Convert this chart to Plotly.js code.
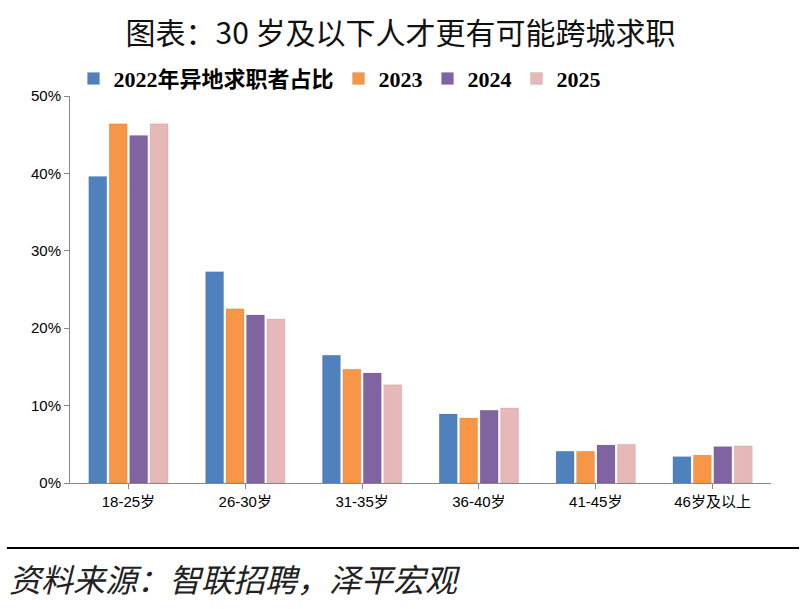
<!DOCTYPE html>
<html><head><meta charset="utf-8">
<script src="https://cdn.plot.ly/plotly-3.0.1.min.js"></script>
<style>body{margin:0;background:#fff}#chart{width:801px;height:609px}</style>
</head><body><div id="chart"></div>
<script>
let categories = ["18-25岁", "26-30岁", "31-35岁", "36-40岁", "41-45岁", "46岁及以上"];
let names = ["2022年异地求职者占比", "2023", "2024", "2025"];
let v2022 = [39.6, 27.3, 16.5, 8.9, 4.1, 3.4];
let v2023 = [46.4, 22.5, 14.7, 8.4, 4.1, 3.6];
let v2024 = [44.9, 21.7, 14.2, 9.4, 4.9, 4.7];
let v2025 = [46.4, 21.2, 12.7, 9.7, 5.0, 4.8];
let colors = ["#4f81bd", "#f79646", "#8064a2", "#e6b9b8"];
let series = [v2022, v2023, v2024, v2025];

let data = series.map(function(v, i) {
    return {
        x: categories, y: v, type: "bar", name: names[i],
        marker: { color: colors[i], line: { color: "rgba(0,0,0,0.15)", width: 0.5 } },
        hovertemplate: "%{y}%<extra></extra>"
    };
});

let cjk = "Noto Sans CJK SC";
let layout = {
    width: 801, height: 609,
    margin: { l: 70, r: 30, t: 96, b: 126 },
    paper_bgcolor: "#fff", plot_bgcolor: "#fff",
    barmode: "group", bargap: 0.3, bargroupgap: 0.12,
    font: { family: cjk, color: "#000" },
    title: { text: "图表：30 岁及以下人才更有可能跨城求职", x: 0.5, y: 0.945, yanchor: "middle",
        font: { size: 30, family: cjk, color: "#111" } },
    legend: { orientation: "h", x: 0.005, y: 1.045, yanchor: "middle", font: { size: 22, family: "Liberation Serif, " + cjk, weight: "bold" },
        traceorder: "normal" },
    xaxis: { showline: true, linecolor: "#888", ticks: "outside", tickcolor: "#888",
        tickfont: { size: 15, family: "Liberation Sans, " + cjk } },
    yaxis: { range: [0, 50], dtick: 10, ticksuffix: "%", showgrid: false, showline: true, linecolor: "#888",
        ticks: "outside", tickcolor: "#888", tickfont: { size: 15, family: "Liberation Sans" } },
    shapes: [
        { type: "line", xref: "paper", yref: "paper", x0: -0.09, x1: 1.04, y0: -0.168, y1: -0.168, line: { color: "#000", width: 2 } }
    ],
    annotations: [
        { text: "<i>资料来源：智联招聘，泽平宏观</i>", xref: "paper", yref: "paper", x: -0.09, y: -0.245,
          xanchor: "left", yanchor: "middle", showarrow: false, font: { size: 32, family: cjk, color: "#222" } }
    ]
};
Plotly.newPlot("chart", data, layout, { displayModeBar: false });
</script></body></html>
